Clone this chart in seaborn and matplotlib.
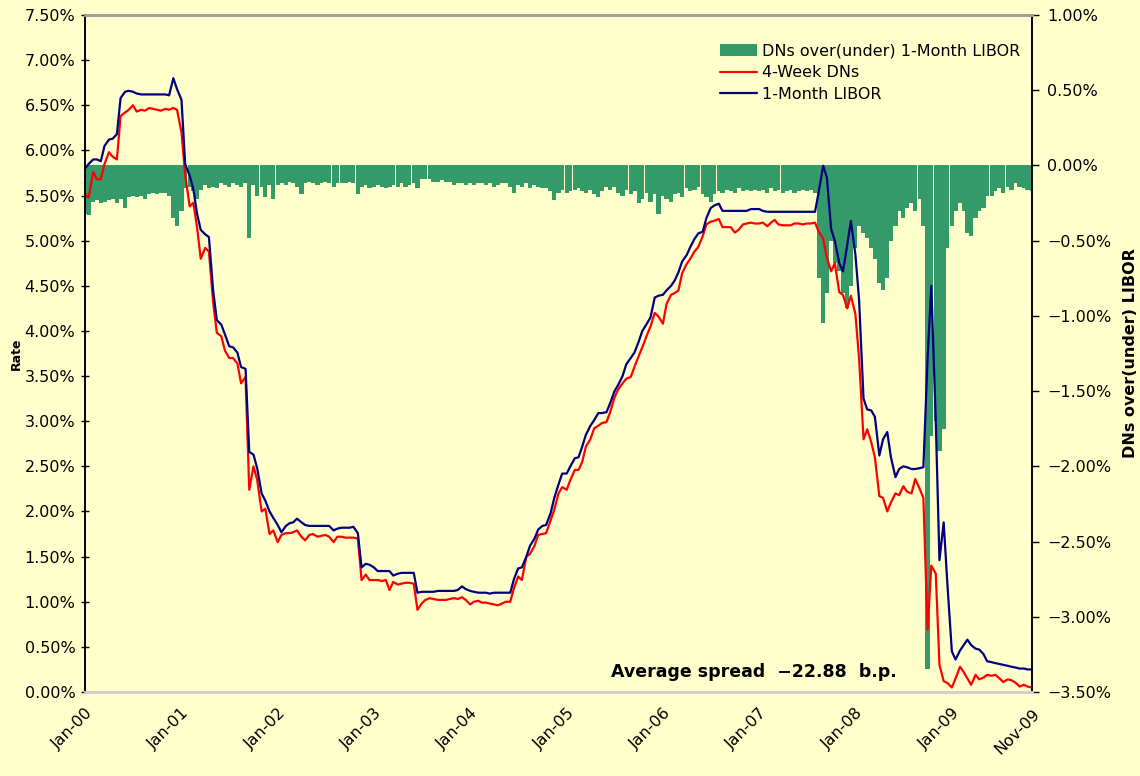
import numpy as np
import pandas as pd
import matplotlib
matplotlib.use("Agg")
import matplotlib.pyplot as plt
from matplotlib.patches import Patch
from matplotlib.lines import Line2D
from matplotlib.ticker import FuncFormatter, MultipleLocator
import seaborn as sns

# Semi-monthly observations, Jan 2000 - Nov 2009 (rates in percent)
libor_1m = [
    5.80, 5.85, 5.90, 5.90, 5.88, 6.05, 6.12, 6.13, 6.18, 6.58, 6.65, 6.66,
    6.65, 6.63, 6.62, 6.62, 6.62, 6.62, 6.62, 6.62, 6.62, 6.61, 6.80, 6.68,
    6.56, 5.85, 5.72, 5.57, 5.30, 5.12, 5.07, 5.04, 4.45, 4.12, 4.07, 3.96,
    3.83, 3.82, 3.76, 3.60, 3.58, 2.66, 2.63, 2.48, 2.20, 2.12, 2.00, 1.93,
    1.85, 1.77, 1.84, 1.87, 1.88, 1.92, 1.88, 1.85, 1.84, 1.84, 1.84, 1.84,
    1.84, 1.84, 1.79, 1.81, 1.82, 1.82, 1.82, 1.83, 1.76, 1.38, 1.42, 1.41,
    1.38, 1.34, 1.34, 1.34, 1.34, 1.29, 1.31, 1.32, 1.32, 1.32, 1.32, 1.10,
    1.11, 1.11, 1.11, 1.11, 1.12, 1.12, 1.12, 1.12, 1.12, 1.13, 1.17, 1.14,
    1.12, 1.11, 1.10, 1.10, 1.10, 1.09, 1.10, 1.10, 1.10, 1.10, 1.10, 1.25,
    1.37, 1.38, 1.50, 1.62, 1.70, 1.80, 1.84, 1.85, 1.98, 2.15, 2.30, 2.42,
    2.42, 2.50, 2.59, 2.60, 2.72, 2.85, 2.95, 3.01, 3.09, 3.09, 3.10, 3.20,
    3.33, 3.40, 3.50, 3.63, 3.70, 3.76, 3.88, 4.00, 4.08, 4.15, 4.37, 4.39,
    4.40, 4.45, 4.50, 4.56, 4.65, 4.77, 4.84, 4.93, 5.02, 5.08, 5.10, 5.25,
    5.36, 5.39, 5.41, 5.33, 5.33, 5.33, 5.33, 5.33, 5.33, 5.33, 5.35, 5.35,
    5.35, 5.33, 5.32, 5.32, 5.32, 5.32, 5.32, 5.32, 5.32, 5.32, 5.32, 5.32,
    5.32, 5.32, 5.32, 5.54, 5.83, 5.70, 5.13, 5.00, 4.75, 4.66, 4.95, 5.22,
    4.85, 4.35, 3.25, 3.13, 3.12, 3.05, 2.62, 2.80, 2.88, 2.60, 2.38, 2.47,
    2.50, 2.49, 2.47, 2.47, 2.48, 2.49, 3.70, 4.50, 3.00, 1.46, 1.88, 1.20,
    0.45, 0.36, 0.46, 0.52, 0.58, 0.52, 0.48, 0.47, 0.42, 0.34, 0.33, 0.32,
    0.31, 0.30, 0.29, 0.28, 0.27, 0.26, 0.26, 0.25, 0.25,
]

dn_4w = [
    5.52, 5.48, 5.76, 5.68, 5.68, 5.85, 5.98, 5.93, 5.90, 6.38, 6.42, 6.45,
    6.50, 6.43, 6.45, 6.44, 6.47, 6.46, 6.45, 6.44, 6.46, 6.45, 6.47, 6.45,
    6.20, 5.73, 5.38, 5.42, 5.15, 4.80, 4.92, 4.88, 4.32, 3.98, 3.94, 3.78,
    3.70, 3.70, 3.64, 3.42, 3.49, 2.24, 2.50, 2.35, 2.00, 2.03, 1.75, 1.79,
    1.66, 1.74, 1.76, 1.76, 1.77, 1.79, 1.72, 1.68, 1.74, 1.75, 1.72, 1.73,
    1.74, 1.72, 1.66, 1.72, 1.72, 1.71, 1.71, 1.71, 1.70, 1.24, 1.30, 1.24,
    1.24, 1.24, 1.23, 1.24, 1.13, 1.22, 1.19, 1.20, 1.21, 1.21, 1.20, 0.91,
    0.98, 1.02, 1.04, 1.03, 1.02, 1.02, 1.02, 1.03, 1.04, 1.03, 1.05, 1.02,
    0.97, 1.00, 1.01, 0.99, 0.99, 0.98, 0.97, 0.96, 0.98, 1.00, 1.00, 1.15,
    1.28, 1.24, 1.50, 1.53, 1.62, 1.74, 1.75, 1.76, 1.90, 2.02, 2.20, 2.27,
    2.24, 2.35, 2.46, 2.46, 2.55, 2.72, 2.80, 2.92, 2.95, 2.98, 2.99, 3.10,
    3.26, 3.35, 3.42, 3.47, 3.49, 3.60, 3.72, 3.82, 3.95, 4.05, 4.20, 4.16,
    4.08, 4.30, 4.40, 4.42, 4.45, 4.64, 4.74, 4.80, 4.88, 4.93, 5.05, 5.18,
    5.21, 5.22, 5.24, 5.15, 5.15, 5.15, 5.09, 5.12, 5.18, 5.19, 5.20, 5.19,
    5.19, 5.20, 5.16, 5.20, 5.23, 5.18, 5.17, 5.17, 5.17, 5.19, 5.19, 5.18,
    5.19, 5.19, 5.20, 5.10, 5.02, 4.81, 4.66, 4.75, 4.43, 4.40, 4.25, 4.39,
    4.19, 3.70, 2.80, 2.91, 2.77, 2.60, 2.17, 2.15, 2.00, 2.10, 2.20, 2.18,
    2.28, 2.22, 2.20, 2.36, 2.25, 2.15, 0.69, 1.40, 1.31, 0.30, 0.12, 0.10,
    0.05, 0.15, 0.28, 0.22, 0.15, 0.08, 0.19, 0.14, 0.16, 0.19, 0.18, 0.19,
    0.15, 0.11, 0.14, 0.13, 0.10, 0.06, 0.08, 0.06, 0.05,
]

spread = [
    -0.32, -0.33, -0.24, -0.23, -0.25, -0.24, -0.23, -0.22, -0.25, -0.22, -0.28, -0.21,
    -0.20, -0.21, -0.20, -0.22, -0.19, -0.18, -0.19, -0.18, -0.18, -0.20, -0.35, -0.40,
    -0.30, -0.15, -0.14, -0.17, -0.22, -0.16, -0.13, -0.15, -0.14, -0.15, -0.12, -0.13,
    -0.14, -0.12, -0.13, -0.14, -0.12, -0.48, -0.13, -0.20, -0.14, -0.21, -0.13, -0.22,
    -0.13, -0.12, -0.13, -0.11, -0.12, -0.14, -0.19, -0.12, -0.11, -0.12, -0.13, -0.12,
    -0.11, -0.12, -0.14, -0.12, -0.12, -0.12, -0.11, -0.12, -0.19, -0.14, -0.13, -0.15,
    -0.14, -0.13, -0.14, -0.15, -0.14, -0.13, -0.14, -0.12, -0.14, -0.13, -0.12, -0.15,
    -0.09, -0.09, -0.09, -0.11, -0.11, -0.10, -0.11, -0.11, -0.13, -0.12, -0.12, -0.13,
    -0.12, -0.13, -0.12, -0.12, -0.13, -0.12, -0.14, -0.13, -0.12, -0.12, -0.14, -0.18,
    -0.13, -0.14, -0.12, -0.15, -0.13, -0.14, -0.15, -0.15, -0.17, -0.23, -0.18, -0.16,
    -0.18, -0.17, -0.16, -0.15, -0.17, -0.18, -0.16, -0.19, -0.21, -0.17, -0.14, -0.16,
    -0.14, -0.18, -0.20, -0.16, -0.19, -0.17, -0.25, -0.22, -0.18, -0.24, -0.19, -0.32,
    -0.20, -0.22, -0.24, -0.19, -0.18, -0.21, -0.15, -0.17, -0.16, -0.14, -0.19, -0.21,
    -0.24, -0.19, -0.17, -0.18, -0.16, -0.17, -0.18, -0.15, -0.17, -0.16, -0.17, -0.16,
    -0.17, -0.16, -0.18, -0.15, -0.17, -0.16, -0.18, -0.17, -0.16, -0.18, -0.17, -0.16,
    -0.17, -0.16, -0.18, -0.75, -1.05, -0.85, -0.50, -0.65, -0.70, -0.85, -0.95, -0.80,
    -0.55, -0.40, -0.45, -0.48, -0.55, -0.62, -0.78, -0.83, -0.75, -0.50, -0.40, -0.30,
    -0.35, -0.28, -0.25, -0.30, -0.22, -0.40, -3.35, -1.80, -1.70, -1.90, -1.75, -0.55,
    -0.40, -0.30, -0.25, -0.30, -0.45, -0.47, -0.35, -0.30, -0.28, -0.20, -0.20, -0.17,
    -0.15, -0.18, -0.14, -0.16, -0.12, -0.14, -0.15, -0.16, -0.17,
]

tick_dates = ["2000-01-01", "2001-01-01", "2002-01-01", "2003-01-01", "2004-01-01",
              "2005-01-01", "2006-01-01", "2007-01-01", "2008-01-01", "2009-01-01",
              "2009-11-01"]
tick_labels = ["Jan-00", "Jan-01", "Jan-02", "Jan-03", "Jan-04", "Jan-05",
               "Jan-06", "Jan-07", "Jan-08", "Jan-09", "Nov-09"]

dates = pd.date_range("2000-01-01", periods=len(libor_1m), freq="SMS")
df = pd.DataFrame({"date": dates, "libor": libor_1m, "dn": dn_4w, "spread": spread})

sns.set_style("white")
plt.rcParams["font.family"] = ["DejaVu Sans"]
plt.rcParams.update({"text.color": "black", "axes.labelcolor": "black",
                     "xtick.color": "black", "ytick.color": "black"})

BG = "#FFFFCC"
GREEN = "#359A69"
RED = "#FF0000"
NAVY = "#000080"

fig = plt.figure(figsize=(11.4, 7.76), dpi=100, facecolor=BG)
ax1 = fig.add_axes([85 / 1140, 1 - 692 / 776, (1032 - 85) / 1140, (692 - 15) / 776])
ax2 = ax1.twinx()

# spread bars on the secondary axis, behind the rate lines
ax2.bar(df["date"], df["spread"], width=16, color=GREEN, linewidth=0, align="center")
ax2.set_ylim(-3.5, 1.0)
ax2.yaxis.set_major_locator(MultipleLocator(0.5))
ax2.yaxis.set_major_formatter(FuncFormatter(lambda v, p: f"{v:.2f}%".replace("-", "\u2212")))
ax2.set_facecolor("white")

ax1.set_zorder(ax2.get_zorder() + 1)
ax1.patch.set_visible(False)

sns.lineplot(data=df, x="date", y="dn", ax=ax1, color=RED, linewidth=1.6)
sns.lineplot(data=df, x="date", y="libor", ax=ax1, color=NAVY, linewidth=1.6)

ax1.set_ylim(0, 7.5)
ax1.yaxis.set_major_locator(MultipleLocator(0.5))
ax1.yaxis.set_major_formatter(FuncFormatter(lambda v, p: f"{v:.2f}%"))
ax1.set_xlim(pd.Timestamp("2000-01-01"), pd.Timestamp("2009-11-01"))
ax1.set_xticks(pd.to_datetime(tick_dates))
ax1.set_xticklabels(tick_labels, rotation=45, ha="right", rotation_mode="anchor")
ax1.set_xlabel("")
ax1.set_ylabel("Rate", fontsize=9, fontweight="bold", color="black")
ax1.yaxis.set_label_coords(-0.066, 0.5)
ax2.set_ylabel("DNs over(under) LIBOR", fontsize=11.5, fontweight="bold",
               labelpad=8, color="black")

for ax in (ax1, ax2):
    ax.tick_params(axis="y", labelsize=11.5, length=6, width=1, colors="black",
                   labelcolor="black", direction="inout")
    ax.tick_params(axis="x", labelsize=11.5, length=0, pad=10, labelcolor="black")
ax1.tick_params(axis="y", pad=4)
ax2.tick_params(axis="y", direction="out", length=5, pad=6)

for ax in (ax1, ax2):
    ax.spines["left"].set_color("black")
    ax.spines["right"].set_color("black")
    ax.spines["top"].set_color("#A0A0A0")
    ax.spines["bottom"].set_color("#D0D0D0")
    for s in ax.spines.values():
        s.set_linewidth(1.2)
    ax.spines["bottom"].set_linewidth(2)
    ax.spines["top"].set_linewidth(2)

handles = [
    Patch(facecolor=GREEN, edgecolor="none"),
    Line2D([], [], color=RED, linewidth=1.6),
    Line2D([], [], color=NAVY, linewidth=1.6),
]
labels = ["DNs over(under) 1-Month LIBOR", "4-Week DNs", "1-Month LIBOR"]
leg = ax1.legend(handles, labels, loc="upper right", bbox_to_anchor=(0.998, 0.972),
                 frameon=False, fontsize=11.5, handlelength=2.3, handleheight=0.75,
                 labelspacing=0.42, handletextpad=0.35, borderaxespad=0.2)
for t in leg.get_texts():
    t.set_color("black")

ax1.text(0.555, 0.03, "Average spread  \u221222.88  b.p.", transform=ax1.transAxes,
         fontsize=12.5, fontweight="bold", ha="left", va="center", color="black")

fig.savefig("out.png", dpi=100, facecolor=BG)
